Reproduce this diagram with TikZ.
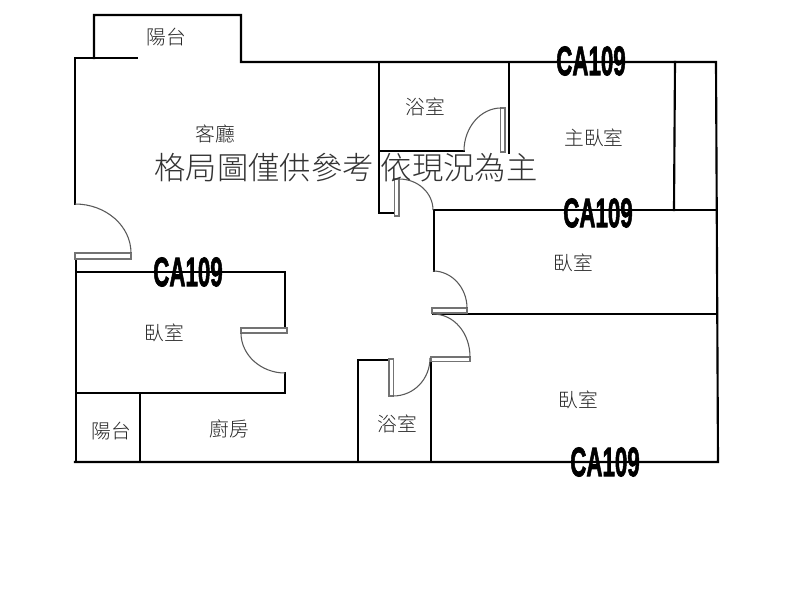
\documentclass[tikz,border=0pt]{standalone}
\usepackage{fontspec}
\newfontfamily\cjk{Noto Sans CJK TC Light}
\newfontfamily\cafont[FakeBold=2]{Liberation Sans Bold}
\tikzset{
  wall/.style={draw=black,line width=1.6pt,line cap=rect},
  leaf/.style={draw=black!55,fill=white,line width=0.8pt},
  swing/.style={draw=black!65,line width=0.8pt},
  room/.style={font=\cjk\fontsize{14.8}{15}\selectfont,text=black!85,inner sep=0pt},
  camark/.style={font=\cafont\fontsize{31}{31}\selectfont,xscale=0.54,inner sep=0pt,text=black},
  notice/.style={font=\cjk\fontsize{23.5}{24}\selectfont,text=black!80,inner sep=0pt}
}
\begin{document}
\begin{tikzpicture}[x=0.75pt,y=-0.75pt]
\path[use as bounding box,fill=white] (0,0) rectangle (800,600);
% outer walls
\draw[wall] (75,58) -- (137,58);
\draw[wall] (94,58) -- (94,15) -- (241,15) -- (241,62) -- (716,62) -- (718,462) -- (75,462);
\draw[wall] (75,58) -- (75,204);
\draw[wall] (76,258) -- (76,462);
% left bedroom
\draw[wall] (76,272) -- (285,272) -- (285,329);
\draw[wall] (285,373) -- (285,393) -- (76,393);
\draw[wall] (140,393) -- (140,462);
% lower bath
\draw[wall] (431,360) -- (431,462);
\draw[wall] (358,462) -- (358,360) -- (389,360);
% upper bath
\draw[wall] (379,62) -- (379,213) -- (395,213);
\draw[wall] (379,151) -- (464,151);
\draw[wall] (509,62) -- (509,153);
\draw[wall] (675,62) -- (674,210);
% right rooms
\draw[wall] (434,271) -- (434,210) -- (716,210);
\draw[wall] (433,314) -- (717,314);
% doors
\draw[leaf] (75,253) rectangle (131,259);
\draw[swing] (75,204) .. controls (106,204) and (131,226) .. (131,253);
\draw[leaf] (241,328) rectangle (287,333);
\draw[swing] (241,333) .. controls (241,355) and (261,373) .. (285,373);
\draw[leaf] (500.5,108) rectangle (505,152);
\draw[swing] (464,151) .. controls (464,127) and (481,108) .. (501,108);
\draw[leaf] (394.5,179) rectangle (399,216);
\draw[swing] (399,179) .. controls (418,179) and (433,193) .. (433,210);
\draw[leaf] (432,308) rectangle (467,313);
\draw[swing] (433,271) .. controls (452,271) and (467,288) .. (467,308);
\draw[leaf] (431,357) rectangle (470,361.5);
\draw[swing] (433,314) .. controls (454,314) and (470,333) .. (470,357);
\draw[leaf] (389,359) rectangle (393.5,396);
\draw[swing] (393,396) .. controls (414,396) and (430,379) .. (430,358);
% labels
\node[room] (t1) at (166,37) {陽台};
\node[room] (t2) at (215,134) {客廳};
\node[room] (t3) at (425,107) {浴室};
\node[room] (t4) at (594,138) {主臥室};
\node[room] (t5) at (573,263) {臥室};
\node[room] (t6) at (164,333) {臥室};
\node[room] (t7) at (578,400) {臥室};
\node[room] (t8) at (111,431) {陽台};
\node[room] (t9) at (229,429) {廚房};
\node[room] (t10) at (397,424) {浴室};
\node[camark] (c1) at (591,61) {CA109};
\node[camark] (c2) at (598,213) {CA109};
\node[camark] (c3) at (188,272) {CA109};
\node[camark] (c4) at (605,462) {CA109};
\node[notice] (n) at (346,168) {格局圖僅供參考 依現況為主};
\end{tikzpicture}
\end{document}
